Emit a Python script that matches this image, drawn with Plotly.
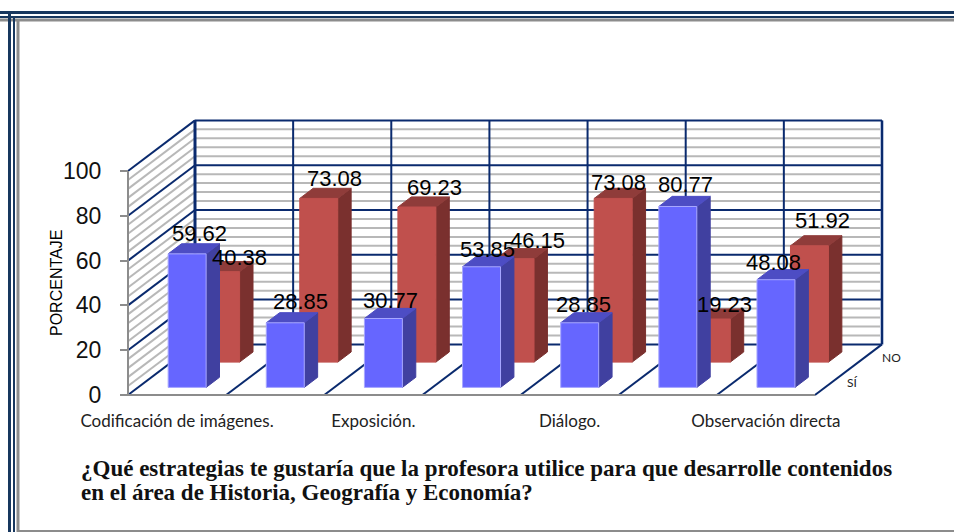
import plotly.graph_objects as go

W, H = 954, 532
categories = ["Codificación de imágenes.", "", "Exposición.", "", "Diálogo.", "", "Observación directa"]
si_values = [59.62, 28.85, 30.77, 53.85, 28.85, 80.77, 48.08]
no_values = [40.38, 73.08, 69.23, 46.15, 73.08, 19.23, 51.92]
y_ticks = [0, 20, 40, 60, 80, 100]
depth_names = ["SÍ", "NO"]
title_lines = ["¿Qué estrategias te gustaría que la profesora utilice para que desarrolle contenidos",
               "en el área de Historia, Geografía y Economía?"]

# label placement relative to each bar's top-front centre, in pixels (x, up)
si_label_shift = [(12, 20), (15, 21), (7, 17.5), (6, 17), (4, 18), (8, 21.5), (-2, 17)]
no_label_shift = [(19, 14.6), (16, 20), (18, 20), (22, 18), (5.5, 15.5), (13, 15), (13, 25)]

# chart geometry
X0_PX, Y0_PX, CAT_PX, VAL_PX = 128, 395, 98.14, 2.24
DX, DY = 33.5 / CAT_PX, 25.3 / VAL_PX   # oblique shift per depth slot
BAR_W, BAR_GAP = 0.387, 0.3065
NAVY = "#0a2a6e"
GREY = "#b8b8b8"
AXGREY = "#8c8c8c"


def proj(c, v, d):
    return c + d * DX, v + d * DY


def seg(points):
    xs, ys = [], []
    for p in points:
        x, y = proj(*p)
        xs.append(x)
        ys.append(y)
    return xs + [None], ys + [None]


def lines_trace(segments, color, width):
    xs, ys = [], []
    for s in segments:
        a, b = seg(s)
        xs += a
        ys += b
    return go.Scatter(x=xs, y=ys, mode="lines", line=dict(color=color, width=width),
                      hoverinfo="skip", showlegend=False, cliponaxis=False)


def polys_trace(polys, color, outline=None):
    xs, ys = [], []
    for s in polys:
        a, b = seg(s + [s[0]])
        xs += a
        ys += b
    return go.Scatter(x=xs, y=ys, mode="lines", fill="toself", fillcolor=color,
                      line=dict(color=outline or color, width=1),
                      hoverinfo="skip", showlegend=False, cliponaxis=False)


n = len(categories)
fig = go.Figure()

# walls: minor bands, major gridlines
minor = [v for v in range(0, 101, 4) if v % 20 != 0]
fig.add_trace(lines_trace([[(0, v, 2), (n, v, 2)] for v in minor], GREY, 2))
fig.add_trace(lines_trace([[(0, v, 0), (0, v, 2)] for v in minor], GREY, 2))
fig.add_trace(lines_trace([[(n, 0, 2), (n, 100, 2)]], "#b8c4dc", 4))
fig.add_trace(lines_trace([[(0, v, 2), (n, v, 2)] for v in y_ticks], NAVY, 2))
fig.add_trace(lines_trace([[(0, v, 0), (0, v, 2)] for v in y_ticks], NAVY, 2))
fig.add_trace(lines_trace([[(c, 0, 2), (c, 100, 2)] for c in range(1, n + 1)], NAVY, 2))
fig.add_trace(lines_trace([[(0, 0, 2), (0, 100, 2)]], NAVY, 3))
# floor
fig.add_trace(lines_trace([[(c, 0, 0), (c, 0, 2)] for c in range(1, n + 1)], NAVY, 2))
fig.add_trace(lines_trace([[(0, 0, 0), (n, 0, 0)], [(0, 0, 0), (0, 100, 0)]], AXGREY, 2))

# bars: back row first
rows = [
    (no_values, 1, "#c0504d", "#7a302e", "#8f3c3a", None),
    (si_values, 0, "#6666ff", "#4040a0", "#4d4dc4", "#a8a8ff"),
]
for values, slot, front, side, top, outline in rows:
    d0, d1 = slot + 0.3, slot + 0.7
    fronts, sides, tops = [], [], []
    for i, v in enumerate(values):
        a, b = i + BAR_GAP, i + BAR_GAP + BAR_W
        fronts.append([(a, 0, d0), (b, 0, d0), (b, v, d0), (a, v, d0)])
        sides.append([(b, 0, d0), (b, 0, d1), (b, v, d1), (b, v, d0)])
        tops.append([(a, v, d0), (b, v, d0), (b, v, d1), (a, v, d1)])
    fig.add_trace(polys_trace(sides, side))
    fig.add_trace(polys_trace(tops, top))
    fig.add_trace(polys_trace(fronts, front, outline))

# data labels
ann = []
for values, slot, shifts in [(no_values, 1, no_label_shift), (si_values, 0, si_label_shift)]:
    for i, v in enumerate(values):
        x, y = proj(i + 0.5, v, slot + 0.3)
        ann.append(dict(x=x, y=y, xref="x", yref="y", text=f"{v:.2f}", showarrow=False,
                        xshift=shifts[i][0], yshift=shifts[i][1], xanchor="center", yanchor="middle",
                        font=dict(family="Liberation Sans", size=22, color="#000")))
# depth labels
for name, d, xs, ys in [(depth_names[0], 0.5, 21, 0), (depth_names[1], 1.5, 26, 0)]:
    x, y = proj(n, 0, d)
    ann.append(dict(x=x, y=y, xref="x", yref="y", text=name, showarrow=False, xshift=xs, yshift=ys,
                    font=dict(family="Lato", size=12, color="#222")))
# axis title
ann.append(dict(x=56 / W, y=1 - 283 / H, xref="paper", yref="paper", text="PORCENTAJE", showarrow=False,
                textangle=-90, xanchor="center", yanchor="middle",
                font=dict(family="Liberation Sans", size=16, color="#000")))
# caption
for line, py in zip(title_lines, [468, 492]):
    ann.append(dict(x=79 / W, y=1 - py / H, xref="paper", yref="paper", text=f"<b>{line}</b>", showarrow=False,
                    xanchor="left", yanchor="middle",
                    font=dict(family="Liberation Serif", size=23, color="#111")))


def hline(py, color, w):
    return dict(type="line", xref="paper", yref="paper", x0=0, x1=1, y0=1 - py / H, y1=1 - py / H,
                line=dict(color=color, width=w))


def vline(px, top, color, w):
    return dict(type="line", xref="paper", yref="paper", x0=px / W, x1=px / W, y0=0, y1=1 - top / H,
                line=dict(color=color, width=w))


shapes = [
    hline(12.5, "#17375e", 3), hline(17, "#17375e", 2), hline(20, "#8c8c8c", 3),
    vline(9.5, 11, "#17375e", 3), vline(14, 16, "#17375e", 2), vline(18, 19, "#8c8c8c", 3),
    dict(type="line", xref="paper", yref="paper", x0=18 / W, x1=1, y0=1 / H, y1=1 / H,
         line=dict(color="#8c8c8c", width=2)),
]

fig.update_layout(
    width=W, height=H, margin=dict(l=0, r=0, t=0, b=0), paper_bgcolor="white", plot_bgcolor="white",
    showlegend=False, annotations=ann, shapes=shapes,
    xaxis=dict(range=[-X0_PX / CAT_PX, (W - X0_PX) / CAT_PX], domain=[0, 1], anchor="free",
               position=(H - Y0_PX) / H, showgrid=False, zeroline=False, showline=False,
               tickmode="array", tickvals=[i + 0.5 for i, c in enumerate(categories) if c],
               ticktext=[c for c in categories if c], ticks="", ticklabelstandoff=14,
               tickfont=dict(family="Lato", size=17, color="#222")),
    yaxis=dict(range=[(Y0_PX - H) / VAL_PX, Y0_PX / VAL_PX], domain=[0, 1], anchor="free",
               position=X0_PX / W, showgrid=False, zeroline=False, showline=False,
               tickmode="array", tickvals=y_ticks, ticks="outside", ticklen=8, tickwidth=2,
               tickcolor=AXGREY, ticklabelstandoff=14,
               tickfont=dict(family="Liberation Sans", size=23, color="#111")),
)
fig.write_html("out.html", config={"displayModeBar": False},
               post_script="document.body.style.margin='0';document.body.style.overflow='hidden';")
